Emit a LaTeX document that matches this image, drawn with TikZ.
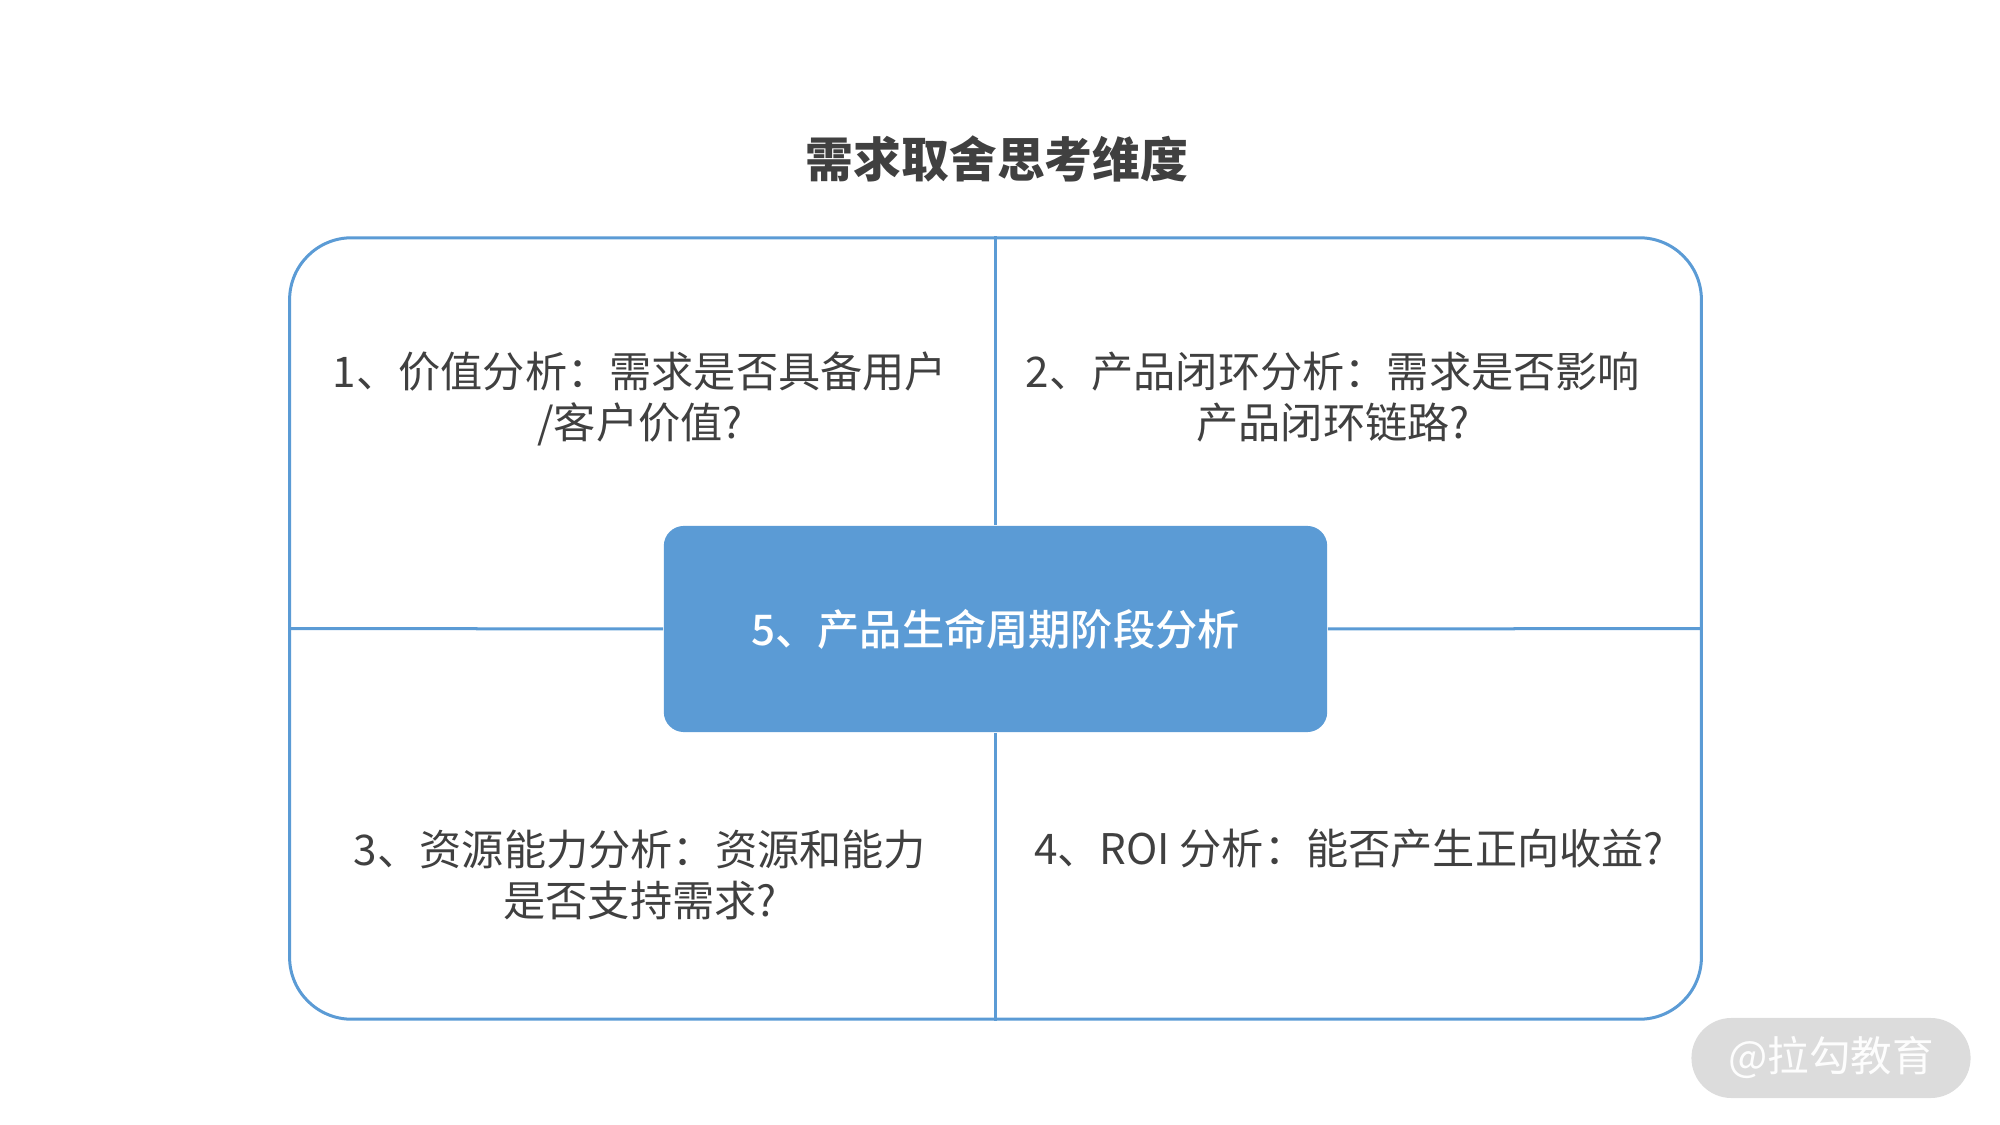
\documentclass[tikz,border=0pt]{standalone}
\usepackage{fontspec}
\setmainfont{Noto Sans CJK SC}
\newfontfamily\coreFont{Noto Sans CJK SC Medium}
\definecolor{dimBlue}{HTML}{5B9BD5}
\definecolor{dimInk}{HTML}{404040}
\definecolor{dimMark}{HTML}{DCDCDC}
\begin{document}
\begin{tikzpicture}[x=0.01cm,y=-0.01cm,
    dimFrame/.style={rectangle,draw=dimBlue,line width=0.03cm,rounded corners=0.62cm,minimum width=14.11cm,minimum height=7.81cm},
    dimCore/.style={rectangle,fill=dimBlue,rounded corners=0.2cm,minimum width=6.63cm,minimum height=2.06cm,text=white,font=\fontsize{12}{14.5}\coreFont},
    dimTxt/.style={align=center,text=dimInk,font=\fontsize{12}{14.5}\selectfont},
    dimLine/.style={draw=dimBlue,line width=0.03cm},
]
\useasboundingbox (0,0) rectangle (2000,1125);
\node[text=dimInk,font=\fontsize{13.6}{16}\selectfont\bfseries] (title) at (997,159) {需求取舍思考维度};
\node[dimFrame] (frame) at (995.5,628.5) {};
\node[dimCore] (core) at (995.5,629) {5、产品生命周期阶段分析};
\draw[dimLine] (frame.north) -- (core.north);
\draw[dimLine] (core.south) -- (frame.south);
\draw[dimLine] (frame.west) -- (core.west);
\draw[dimLine] (core.east) -- (frame.east);
% quadrant texts
\node[dimTxt] (value) at (640,399) {1、价值分析：需求是否具备用户\\/客户价值?};
\node[dimTxt] (loop) at (1333,397) {2、产品闭环分析：需求是否影响\\产品闭环链路?};
\node[dimTxt] (res) at (640,875) {3、资源能力分析：资源和能力\\是否支持需求?};
\node[dimTxt] (roi) at (1349,849) {4、ROI 分析：能否产生正向收益?};
\node[rectangle,fill=dimMark,rounded corners=0.4cm,minimum width=2.79cm,minimum height=0.8cm,text=white!94!dimMark,font=\fontsize{11.8}{14}\selectfont] (mark) at (1831,1058) {@拉勾教育};
\end{tikzpicture}
\end{document}
